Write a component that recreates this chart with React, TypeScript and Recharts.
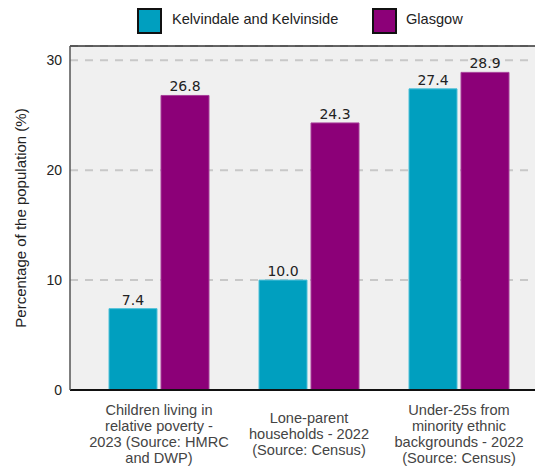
import React from 'react';
import { BarChart, Bar, XAxis, YAxis, CartesianGrid, Legend, LabelList, ReferenceLine } from 'recharts';

const categories = [
    'Children living in relative poverty - 2023 (Source: HMRC and DWP)',
    'Lone-parent households - 2022 (Source: Census)',
    'Under-25s from minority ethnic backgrounds - 2022 (Source: Census)'
];
const tickLines = [
    ['Children living in', 'relative poverty -', '2023 (Source: HMRC', 'and DWP)'],
    ['Lone-parent', 'households - 2022', '(Source: Census)'],
    ['Under-25s from', 'minority ethnic', 'backgrounds - 2022', '(Source: Census)']
];
const kelvindale = [7.4, 10.0, 27.4];
const glasgow = [26.8, 24.3, 28.9];
const yTicks = [0, 10, 20, 30];
const yMax = 31.3;

const data = categories.map((name, i) => ({
    name,
    lines: tickLines[i],
    kelvindale: kelvindale[i],
    glasgow: glasgow[i]
}));

const SANS = '"Liberation Sans", Arial, sans-serif';
const CYAN = '#009fbf';
const PURPLE = '#8c0078';

const CategoryTick = (props: any) => {
    const { x, y, index } = props;
    const lines: string[] = tickLines[index] || [];
    const centre = y + 36;
    const start = centre - ((lines.length - 1) * 16) / 2;
    return (
        <g>
            {lines.map((line, i) => (
                <text key={i} x={x} y={start + i * 16} textAnchor="middle" dominantBaseline="central"
                    fontFamily={SANS} fontSize={14.6} fill="#444">
                    {line}
                </text>
            ))}
        </g>
    );
};

const LegendContent = () => (
    <div style={{ position: 'relative', height: 46, fontFamily: SANS, fontSize: 14.6, color: '#222' }}>
        <div style={{ position: 'absolute', left: 137, top: 8, width: 21, height: 22, background: CYAN, border: '2px solid #111' }} />
        <span style={{ position: 'absolute', left: 172, top: 11 }}>Kelvindale and Kelvinside</span>
        <div style={{ position: 'absolute', left: 372, top: 8, width: 21, height: 22, background: PURPLE, border: '2px solid #111' }} />
        <span style={{ position: 'absolute', left: 406, top: 11 }}>Glasgow</span>
    </div>
);

const formatValue = (v: any) => Number(v).toFixed(1);

export default function App() {
    return (
        <div style={{ position: 'absolute', left: 0, top: 0 }}>
            <BarChart
                width={535}
                height={466}
                data={data}
                barSize={48}
                barGap={4}
                margin={{ top: 0, right: 0, left: 0, bottom: 0 }}>
                <CartesianGrid vertical={false} fill="#f0f0f0" stroke="#c8c8c8" strokeWidth={2} strokeDasharray="8 7" />
                <Legend verticalAlign="top" height={46} wrapperStyle={{ height: 46, left: 0, top: 0, width: 535 }} content={LegendContent} />
                <XAxis dataKey="name" height={76} padding={{ left: 14, right: 1 }} axisLine={{ stroke: '#111', strokeWidth: 2 }}
                    tickLine={false} tick={CategoryTick} interval={0} />
                <YAxis width={70} domain={[0, yMax]} ticks={yTicks} allowDataOverflow axisLine={{ stroke: '#555', strokeWidth: 1.5 }}
                    tickLine={false} tick={{ fontFamily: SANS, fontSize: 14, fill: '#222' }}
                    label={{
                        content: () => (
                            <text x={20} y={218} transform="rotate(-90 20 218)" textAnchor="middle" dominantBaseline="central"
                                fontFamily={SANS} fontSize={15} fill="#222">
                                Percentage of the population (%)
                            </text>
                        )
                    }} />
                <ReferenceLine y={yMax} stroke="#333" strokeWidth={1.5} />
                <Bar dataKey="kelvindale" name="Kelvindale and Kelvinside" fill={CYAN} stroke="#4cc0d8" strokeWidth={1} isAnimationActive={false}>
                    <LabelList dataKey="kelvindale" position="top" offset={4} formatter={formatValue}
                        style={{ fontFamily: '"DejaVu Sans", sans-serif', fontSize: 14, fill: '#222' }} />
                </Bar>
                <Bar dataKey="glasgow" name="Glasgow" fill={PURPLE} stroke="#a8409a" strokeWidth={1} isAnimationActive={false}>
                    <LabelList dataKey="glasgow" position="top" offset={4} formatter={formatValue}
                        style={{ fontFamily: '"DejaVu Sans", sans-serif', fontSize: 14, fill: '#222' }} />
                </Bar>
            </BarChart>
        </div>
    );
}
